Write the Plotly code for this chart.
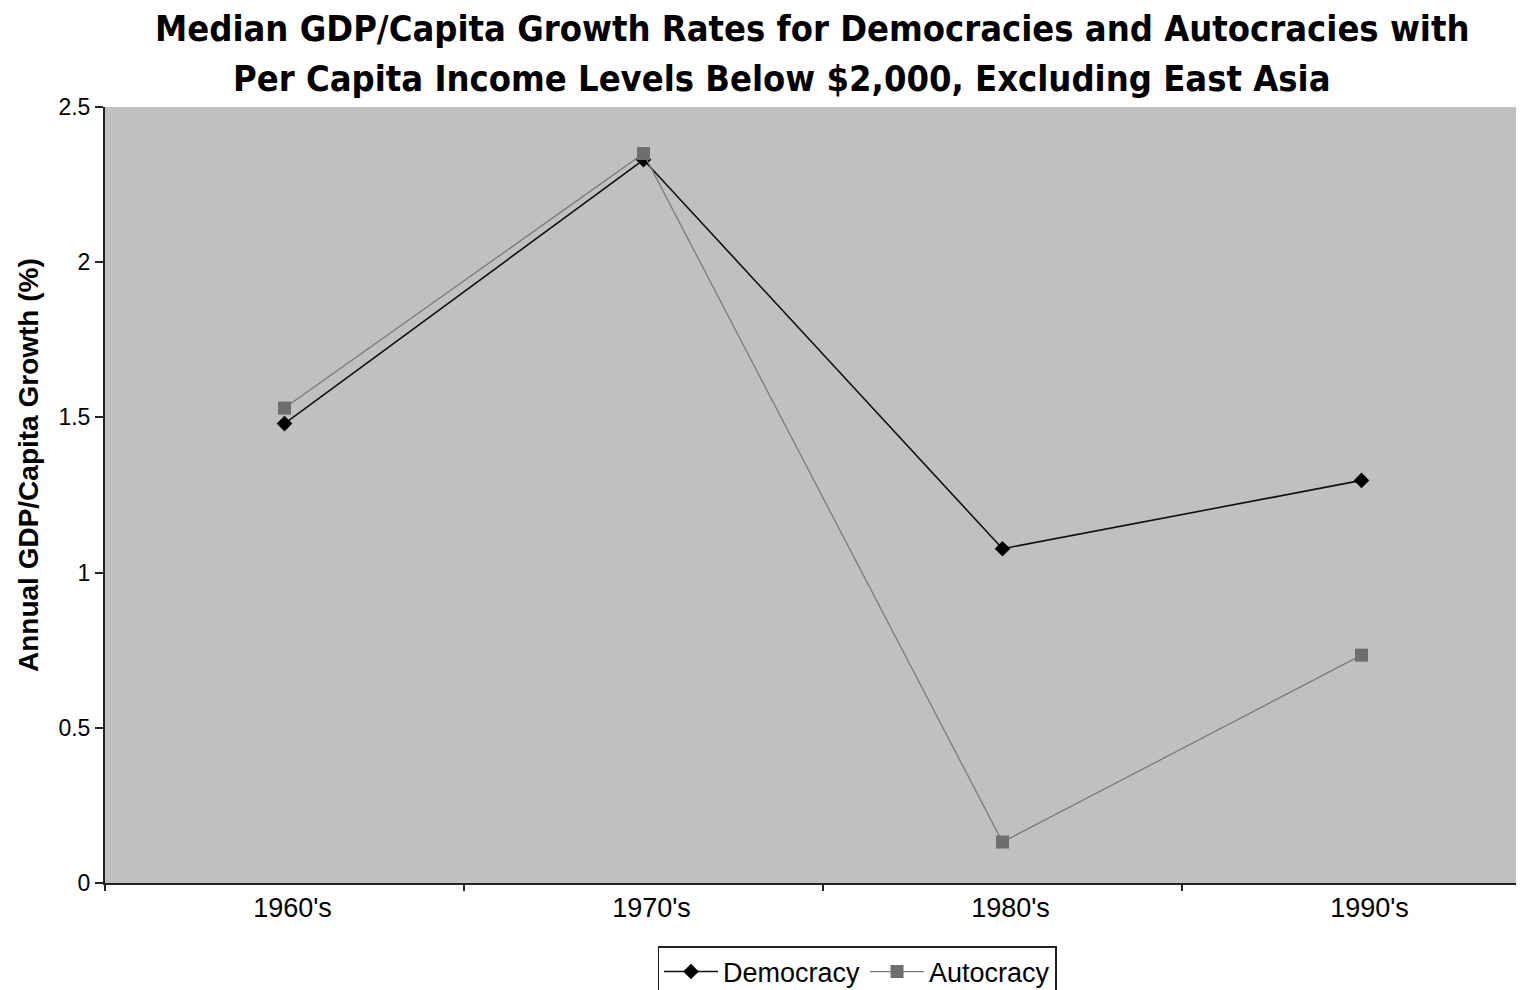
import plotly.graph_objects as go

decades = ["1960's", "1970's", "1980's", "1990's"]
democracy = [1.48, 2.33, 1.077, 1.297]
autocracy = [1.53, 2.35, 0.132, 0.734]
y_ticks = [0, 0.5, 1, 1.5, 2, 2.5]
y_ticklabels = ["0", "0.5", "1", "1.5", "2", "2.5"]

title_line1 = "Median GDP/Capita Growth Rates for Democracies and Autocracies with"
title_line2 = "Per Capita Income Levels Below $2,000, Excluding East Asia"
y_title = "Annual GDP/Capita Growth (%)"

# The page body has an 8px default margin, so the figure is drawn at (8, 8).
OFF = 8
VH = 990
W = 1540
H = VH - OFF
PLOT_L, PLOT_T, PLOT_B = 105, 107, 883   # target pixels in the window
PLOT_R = OFF + W                          # plot runs past the window edge, as in the reference
ML = PLOT_L - OFF
MT = PLOT_T - OFF
MR = 0
MB = VH - PLOT_B
pw = PLOT_R - PLOT_L
ph = PLOT_B - PLOT_T
CAT_W = 359.0                             # pixel width of one category band

def px_x(x):
    return (x - PLOT_L) / pw

def px_y(y):
    return (PLOT_B - y) / ph

title_font = dict(family="DejaVu Sans Condensed, Liberation Sans Narrow, sans-serif",
                  size=36, color="black")

fig = go.Figure()
fig.add_trace(go.Scatter(
    x=decades, y=democracy, name="Democracy", mode="lines+markers",
    line=dict(color="#111111", width=1.6),
    marker=dict(symbol="diamond", size=12, color="#000000"),
))
fig.add_trace(go.Scatter(
    x=decades, y=autocracy, name="Autocracy", mode="lines+markers",
    line=dict(color="#7a7a7a", width=1.3),
    marker=dict(symbol="square", size=13, color="#6E6E6E"),
))

fig.update_layout(
    width=W, height=H,
    margin=dict(l=ML, r=MR, t=MT, b=MB, pad=0, autoexpand=False),
    paper_bgcolor="white",
    plot_bgcolor="#C0C0C0",
    font=dict(family="Liberation Sans, Arial, sans-serif", color="black"),
    showlegend=True,
    legend=dict(
        orientation="h", x=px_x(857), xanchor="center", y=px_y(946), yanchor="top",
        bordercolor="#222222", borderwidth=1.5, bgcolor="white",
        font=dict(size=27, color="black"),
        itemwidth=54, tracegroupgap=0,
    ),
    xaxis=dict(
        type="category", categoryorder="array", categoryarray=decades,
        range=[-0.5, -0.5 + pw / CAT_W],
        showgrid=False, zeroline=False,
        showline=True, linecolor="#222222", linewidth=2,
        ticks="outside", tickson="boundaries", ticklen=6, tickcolor="#222222", tickwidth=1.5,
        tickfont=dict(size=27, color="black"),
        ticklabelshift=8,
    ),
    yaxis=dict(
        range=[0, 2.5], tickvals=y_ticks, ticktext=y_ticklabels,
        showgrid=False, zeroline=False,
        showline=True, linecolor="#222222", linewidth=2,
        ticks="outside", ticklen=8, tickcolor="#222222", tickwidth=1.5,
        tickfont=dict(size=23, color="black"),
    ),
    annotations=[
        dict(text="<b>" + title_line1 + "</b>", xref="paper", yref="paper",
             x=px_x(812), y=px_y(29), xanchor="center", yanchor="middle",
             showarrow=False, font=title_font),
        dict(text="<b>" + title_line2 + "</b>", xref="paper", yref="paper",
             x=px_x(782), y=px_y(79), xanchor="center", yanchor="middle",
             showarrow=False, font=title_font),
        dict(text="<b>" + y_title + "</b>", xref="paper", yref="paper",
             x=px_x(28), y=px_y(465), xanchor="center", yanchor="middle",
             textangle=-90, showarrow=False,
             font=dict(family="Liberation Sans, Arial, sans-serif", size=28, color="black")),
    ],
)

fig.write_html("out.html")
